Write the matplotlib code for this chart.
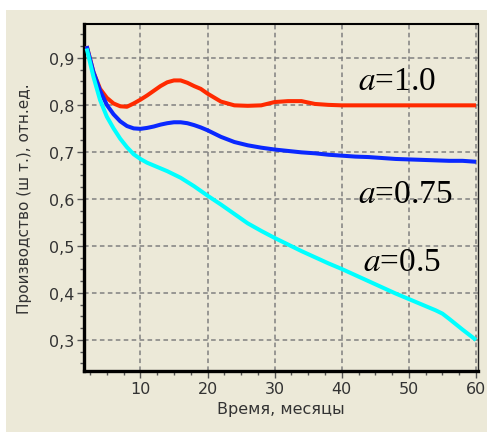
import matplotlib
matplotlib.use("Agg")
import matplotlib.pyplot as plt
from matplotlib.patches import Rectangle
from matplotlib.ticker import MultipleLocator, FuncFormatter

plt.rcParams['mathtext.fontset'] = 'stix'

# Time axis, months
months = [2, 3, 4, 5, 6, 7, 8, 9, 10, 11, 12, 13, 14, 15, 16, 17, 18, 19, 20,
          22, 24, 26, 28, 30, 32, 34, 36, 38, 40, 42, 44, 46, 48, 50, 52, 54,
          56, 58, 60]

# Relative production for a = 1.0
prod_a100 = [0.925, 0.870, 0.834, 0.815, 0.803, 0.797, 0.796, 0.803, 0.811,
             0.820, 0.830, 0.840, 0.848, 0.852, 0.852, 0.847, 0.840, 0.834,
             0.824, 0.807, 0.799, 0.798, 0.799, 0.806, 0.808, 0.808, 0.802,
             0.800, 0.799, 0.799, 0.799, 0.799, 0.799, 0.799, 0.799, 0.799,
             0.799, 0.799, 0.799]

# Relative production for a = 0.75
prod_a075 = [0.925, 0.870, 0.830, 0.800, 0.780, 0.765, 0.755, 0.750, 0.749,
             0.751, 0.754, 0.758, 0.761, 0.763, 0.763, 0.761, 0.757, 0.752,
             0.746, 0.732, 0.721, 0.714, 0.709, 0.705, 0.702, 0.699, 0.697,
             0.694, 0.692, 0.690, 0.689, 0.687, 0.685, 0.684, 0.683, 0.682,
             0.681, 0.681, 0.679]

# Relative production for a = 0.5 (includes the bend near month 55)
months_a050 = [2, 3, 4, 5, 6, 7, 8, 9, 10, 11, 12, 13, 14, 15, 16, 17, 18, 19,
               20, 22, 24, 26, 28, 30, 32, 34, 36, 38, 40, 42, 44, 46, 48, 50,
               52, 54, 55, 56, 58, 60]
prod_a050 = [0.920, 0.860, 0.810, 0.775, 0.750, 0.728, 0.710, 0.695, 0.685,
             0.677, 0.671, 0.665, 0.659, 0.652, 0.645, 0.636, 0.627, 0.617,
             0.607, 0.588, 0.568, 0.548, 0.532, 0.517, 0.503, 0.489, 0.476,
             0.463, 0.451, 0.438, 0.425, 0.412, 0.399, 0.387, 0.375, 0.363,
             0.356, 0.345, 0.322, 0.300]

series_labels = [r"$a$=1.0", r"$a$=0.75", r"$a$=0.5"]
x_label = "Время, месяцы"
y_label = "Производство (ш т.), отн.ед."

BEIGE = "#ECE9D8"
TEXT = "#333333"

fig = plt.figure(figsize=(4.87, 4.35), dpi=100, facecolor="white")
panel = Rectangle((6 / 487, 2 / 435), 1 - 6 / 487, 422 / 435,
                  transform=fig.transFigure, facecolor=BEIGE,
                  edgecolor="none", zorder=-10)
fig.patches.append(panel)

ax = fig.add_axes([84 / 487, 1 - 372 / 435, 394 / 487, 347 / 435])
ax.set_facecolor(BEIGE)

ax.plot(months, prod_a100, color="#FF2A00", lw=2.9, solid_capstyle="butt", zorder=3)
ax.plot(months, prod_a075, color="#0A28FF", lw=2.9, solid_capstyle="butt", zorder=3)
ax.plot(months_a050, prod_a050, color="#00FFFF", lw=2.9, solid_capstyle="butt", zorder=3)

ax.set_xlim(1.6, 60.3)
ax.set_ylim(0.234, 0.972)

ax.xaxis.set_major_locator(MultipleLocator(10))
ax.xaxis.set_minor_locator(MultipleLocator(2.5))
ax.yaxis.set_major_locator(MultipleLocator(0.1))
ax.yaxis.set_minor_locator(MultipleLocator(0.025))
ax.yaxis.set_major_formatter(FuncFormatter(lambda v, p: f"{v:.1f}".replace(".", ",")))

ax.grid(True, which="major", color="#808080", linestyle=(0, (3.0, 2.2)), lw=1.1)
ax.set_axisbelow(True)

ax.tick_params(which="major", direction="out", length=5, width=1, color="#555555",
               labelsize=11.5, labelcolor=TEXT, pad=2)
ax.tick_params(which="minor", direction="out", length=3, width=1, color="#555555")

for side in ("left", "bottom"):
    ax.spines[side].set_linewidth(2.4)
    ax.spines[side].set_color("black")
ax.spines["top"].set_linewidth(1.5)
ax.spines["top"].set_color("black")
ax.spines["right"].set_linewidth(1.0)
ax.spines["right"].set_color("#222222")

ax.set_xlabel(x_label, fontsize=11.5, color=TEXT, labelpad=4)
ax.set_ylabel(y_label, fontsize=11, color=TEXT)
ax.yaxis.set_label_coords(-0.132, 0.5)

label_pos = [(42.4, 0.834), (42.4, 0.594), (43.1, 0.449)]
for txt, (lx, ly) in zip(series_labels, label_pos):
    ax.text(lx, ly, txt, fontsize=24, family="Liberation Serif", color="black",
            ha="left", va="baseline", zorder=4)

fig.savefig("out.png", dpi=100, facecolor="white")
